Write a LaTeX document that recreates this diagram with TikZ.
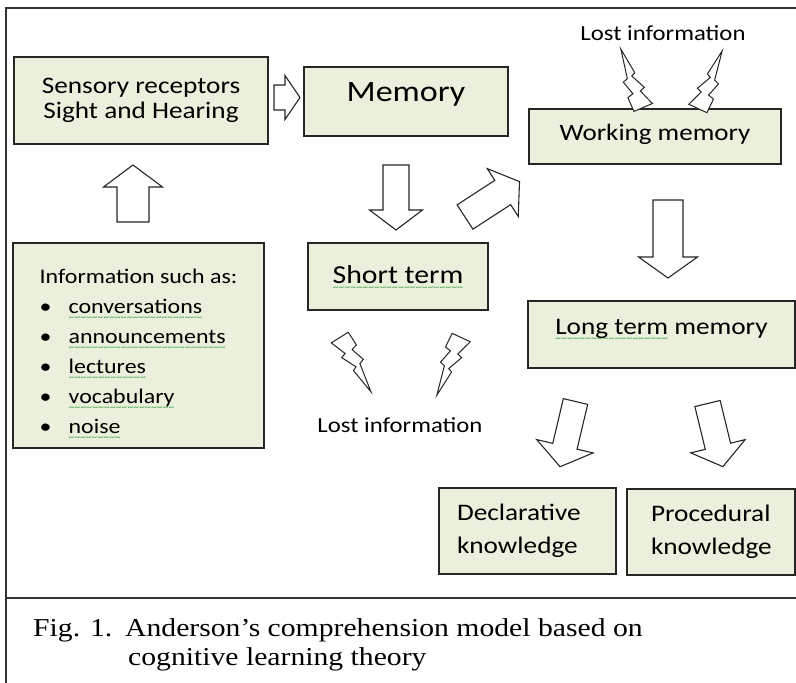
\documentclass[tikz,border=0pt]{standalone}
\usepackage{fontspec}
\setmainfont{Carlito}[FakeStretch=1.15]
\newfontfamily\capfont{Liberation Serif}[FakeStretch=1.15]
\usepackage{tikz}
\definecolor{boxfill}{HTML}{EAF0DC}
\definecolor{boxline}{HTML}{262626}
\definecolor{squig}{HTML}{3FA34D}

% green wavy line under a word
\newcommand{\spellerr}[1]{\setbox0=\hbox{#1}\rlap{\raisebox{-7pt}[0pt][0pt]{\hbox to \wd0{\color{squig}\fontsize{10}{10}\selectfont\xleaders\hbox{\textasciitilde}\hfill}}}\box0\relax}

\tikzset{
  box/.style={draw=boxline, line width=1.3pt, fill=boxfill, inner sep=0pt},
  arrowline/.style={draw=black!85, line width=1.1pt, fill=white},
  boltline/.style={draw=black!85, line width=1pt, fill=white},
  pics/blockarrow/.style n args={4}{code={
    \path[arrowline] (0,-#2) -- ({#1-#4},-#2) -- ({#1-#4},-#3) -- (#1,0)
      -- ({#1-#4},#3) -- ({#1-#4},#2) -- (0,#2) -- cycle;}},
  pics/bolt/.style={code={
    \path[boltline] (-10,0) -- (10,-1) -- (11,14) -- (5,16) -- (10,30) -- (5,32)
      -- (1,62) -- (-4,35) -- (0,33) -- (-8,18) -- (-3,16) -- cycle;}},
}

\begin{document}
\begin{tikzpicture}[x=1pt,y=-1pt]
\useasboundingbox (0,0) rectangle (796,683);
\draw[line width=2pt,black!80] (796,8) -- (6,8) -- (6,683);
\draw[line width=2pt,black!80] (6,598) -- (796,598);

% boxes
\node[box,minimum width=254pt,minimum height=87pt,align=center,font=\fontsize{23.7}{25}\selectfont] (sens) at (141,100.5) {Sensory receptors\\Sight and Hearing};
\node[box,minimum width=204pt,minimum height=69pt,font=\fontsize{29.6}{34}\selectfont,text height=10pt,text depth=10pt] (mem) at (406,101.5) {Memory};
\node[box,minimum width=252pt,minimum height=55pt,font=\fontsize{23.5}{28}\selectfont,text height=15pt,text depth=8pt] (work) at (655,136.5) {Working memory};
\node[box,minimum width=180pt,minimum height=67pt,font=\fontsize{25.9}{30}\selectfont,text height=18pt,text depth=5pt] (short) at (398,276.5) {\spellerr{Short term}};
\node[box,minimum width=267pt,minimum height=67pt,font=\fontsize{23.7}{28}\selectfont,text height=10pt,text depth=10pt] (long) at (661.5,334.5) {\spellerr{Long term} memory};
\node[box,minimum width=251pt,minimum height=205pt,align=left,font=\fontsize{20.8}{30}\selectfont] (info) at (138.5,345.5)
  {\rule{0pt}{27pt}Information such as:\\
   \makebox[29pt][l]{\textbullet}\spellerr{conversations}\\
   \makebox[29pt][l]{\textbullet}\spellerr{announcements}\\
   \makebox[29pt][l]{\textbullet}\spellerr{lectures}\\
   \makebox[29pt][l]{\textbullet}\spellerr{vocabulary}\\
   \makebox[29pt][l]{\textbullet}\spellerr{noise}};
\node[box,minimum width=177pt,minimum height=86pt,text width=141pt,inner xsep=18pt,align=left,font=\fontsize{23.7}{33}\selectfont] (decl) at (527.5,531) {Declarative\\knowledge};
\node[box,minimum width=168pt,minimum height=86pt,text width=120pt,inner xsep=24pt,align=left,font=\fontsize{23.7}{33}\selectfont] (proc) at (711,532) {Procedural\\knowledge};

\node[font=\fontsize{21.5}{26}\selectfont] (lostwm) at (663,33) {Lost information};
\node[font=\fontsize{21.5}{26}\selectfont] (lostst) at (400,425) {Lost information};

% lightning
\pic[rotate=-160] at (643,107) {bolt};
\pic[rotate=158,xscale=-1] at (698,108) {bolt};
\pic[rotate=29] at (340,338) {bolt};
\pic[rotate=-22,xscale=-1] at (461,338) {bolt};

% block arrows
\pic at (274,97.5) {blockarrow={26}{12.5}{22}{15}};
\pic[rotate=90] at (133,222) {blockarrow={57}{16}{29.5}{22}};
\pic[rotate=-90] at (396,165) {blockarrow={65}{13}{26.5}{20}};
\pic[rotate=33] at (465,217) {blockarrow={65}{14.5}{28.5}{20}};
\pic[rotate=-90] at (668,200) {blockarrow={78}{15}{29.5}{21}};
\pic[rotate=-103.3] at (575.5,401.5) {blockarrow={67}{12.5}{29}{21}};
\pic[rotate=-76.3] at (707.5,403.5) {blockarrow={65}{13}{28}{21}};

\node[anchor=base west,align=left,inner sep=0pt,font=\capfont\fontsize{25.8}{29}\selectfont] (cap) at (33,665)
  {\makebox[92pt][l]{Fig. 1.}Anderson’s comprehension model based on\\\hspace*{95pt}cognitive learning theory};
\end{tikzpicture}
\end{document}
